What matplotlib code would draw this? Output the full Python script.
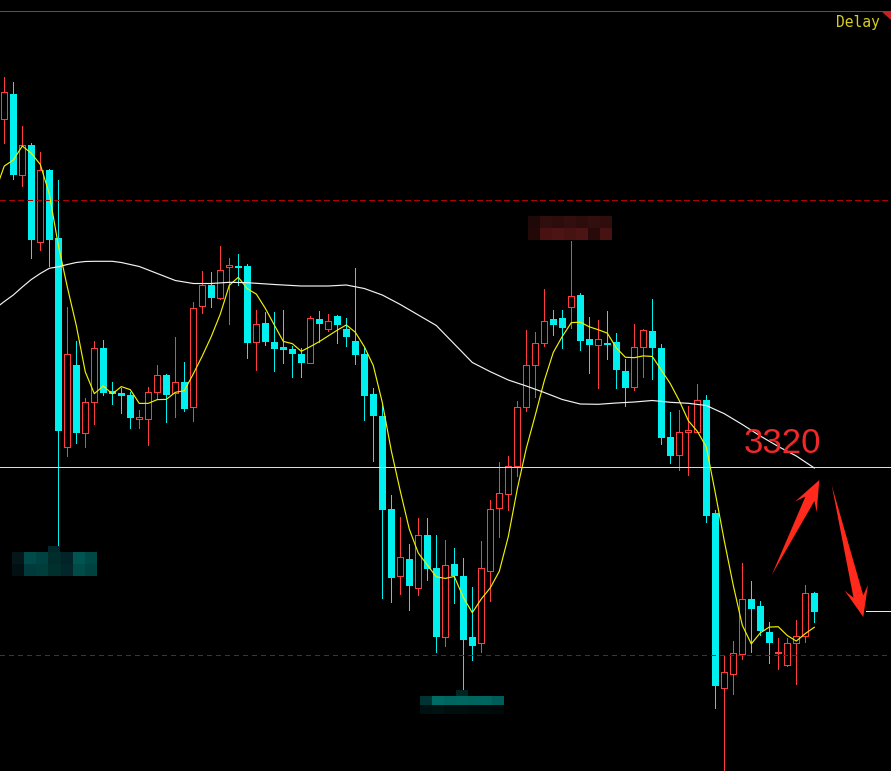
import numpy as np
import matplotlib
matplotlib.use("Agg")
import matplotlib.pyplot as plt
from matplotlib.patches import Rectangle, Polygon
from matplotlib.transforms import IdentityTransform

plt.rcParams["lines.scale_dashes"] = False

# ---- hourly candles (price) ----
opens = [3354.83, 3357.30, 3349.23, 3352.17, 3342.47, 3349.67, 3342.87, 3322.03, 3330.20, 3323.43,
         3326.47, 3331.87, 3327.57, 3327.43, 3327.20, 3324.80, 3324.83, 3327.53, 3329.20, 3327.43,
         3328.50, 3325.97, 3336.07, 3338.17, 3336.93, 3339.97, 3340.07, 3340.10, 3332.47, 3334.40,
         3332.50, 3332.00, 3331.80, 3331.30, 3330.37, 3334.80, 3333.77, 3335.10, 3333.80, 3332.60,
         3331.30, 3327.30, 3325.10, 3315.80, 3309.13, 3310.80, 3307.93, 3313.20, 3309.90, 3303.03,
         3310.30, 3309.10, 3303.00, 3302.43, 3309.63, 3315.87, 3317.27, 3320.07, 3325.97, 3330.17,
         3332.37, 3334.80, 3334.90, 3335.97, 3337.20, 3332.80, 3332.17, 3332.40, 3332.50, 3329.60,
         3328.03, 3332.03, 3333.60, 3331.90, 3323.00, 3321.17, 3323.47, 3323.53, 3326.67, 3315.37,
         3297.87, 3299.27, 3301.27, 3306.77, 3306.10, 3303.47, 3301.43, 3300.23, 3302.37, 3303.07,
         3307.37]
highs = [3358.97, 3358.50, 3354.10, 3352.40, 3351.47, 3349.80, 3348.67, 3335.97, 3332.60, 3326.90,
         3332.60, 3332.70, 3328.50, 3327.87, 3327.53, 3325.73, 3328.00, 3330.23, 3329.33, 3333.03,
         3330.50, 3336.47, 3339.63, 3339.50, 3342.10, 3340.87, 3341.30, 3340.30, 3335.70, 3335.53,
         3335.50, 3335.70, 3332.10, 3331.87, 3335.10, 3335.60, 3335.30, 3335.20, 3334.87, 3339.90,
         3332.05, 3327.87, 3326.20, 3317.17, 3315.00, 3312.30, 3314.90, 3314.90, 3313.20, 3312.70,
         3311.90, 3310.90, 3308.03, 3312.60, 3316.70, 3320.50, 3321.10, 3326.57, 3333.70, 3333.50,
         3337.80, 3335.70, 3335.70, 3342.60, 3337.40, 3335.00, 3334.70, 3335.60, 3333.40, 3330.80,
         3334.30, 3333.80, 3336.80, 3332.30, 3325.47, 3325.67, 3326.10, 3328.30, 3327.20, 3315.70,
         3301.20, 3302.60, 3310.43, 3308.60, 3306.60, 3304.47, 3302.93, 3302.93, 3304.73, 3308.17,
         3307.50]
lows = [3352.43, 3348.83, 3348.13, 3340.93, 3341.73, 3340.13, 3312.13, 3321.13, 3322.43, 3322.03,
        3324.33, 3327.20, 3326.30, 3325.43, 3323.93, 3323.93, 3322.20, 3326.77, 3324.53, 3325.03,
        3325.63, 3324.63, 3335.43, 3336.03, 3336.85, 3334.30, 3338.20, 3330.93, 3329.70, 3332.20,
        3329.63, 3330.37, 3329.03, 3329.03, 3330.37, 3332.50, 3333.63, 3332.43, 3332.13, 3330.35,
        3324.73, 3320.63, 3306.93, 3306.53, 3307.33, 3305.73, 3307.23, 3308.70, 3301.53, 3302.13,
        3306.43, 3297.73, 3300.73, 3301.53, 3306.63, 3313.03, 3315.73, 3319.13, 3325.63, 3327.03,
        3332.13, 3333.23, 3331.93, 3333.93, 3331.73, 3329.43, 3327.93, 3330.83, 3327.93, 3326.13,
        3327.73, 3329.03, 3328.83, 3322.27, 3320.43, 3319.67, 3319.23, 3323.53, 3314.53, 3295.93,
        3289.70, 3297.33, 3300.77, 3301.53, 3303.23, 3300.43, 3299.83, 3300.10, 3298.33, 3302.53,
        3304.53]
closes = [3357.47, 3349.23, 3352.17, 3342.73, 3349.67, 3342.73, 3323.63, 3331.27, 3323.43, 3326.47,
          3331.87, 3327.43, 3327.33, 3327.10, 3324.93, 3325.00, 3327.47, 3329.20, 3327.20, 3328.47,
          3325.80, 3335.90, 3338.17, 3336.93, 3339.67, 3340.17, 3339.93, 3332.43, 3334.27, 3332.53,
          3331.83, 3331.73, 3331.33, 3330.43, 3334.87, 3334.33, 3334.60, 3334.20, 3333.03, 3331.23,
          3327.13, 3325.13, 3315.73, 3308.93, 3311.00, 3308.13, 3313.17, 3309.80, 3303.00, 3310.20,
          3309.10, 3302.73, 3302.13, 3309.87, 3315.77, 3317.37, 3320.07, 3325.97, 3330.17, 3332.37,
          3334.57, 3334.23, 3333.93, 3337.07, 3332.63, 3332.23, 3332.77, 3332.23, 3329.73, 3327.93,
          3332.00, 3333.67, 3331.93, 3322.95, 3321.13, 3323.47, 3323.67, 3326.65, 3315.13, 3298.13,
          3299.47, 3301.37, 3306.77, 3305.83, 3303.63, 3302.37, 3301.53, 3302.37, 3303.07, 3307.37,
          3305.53]
# closes of the five bars before the visible window (feed the MA5)
prior_closes = [3344.97, 3346.23, 3345.17, 3346.38, 3355.25]

# slow moving average, sampled at bar indices
slow_ma_idx = [-1, 0, 1, 2, 3, 4, 5, 6, 7, 8, 9, 10, 12, 13, 15, 17, 19, 21, 23, 25, 27, 30, 33, 36,
               38, 40, 42, 44, 46, 48, 50, 52, 54, 56, 58, 60, 62, 64, 66, 68, 70, 72, 74, 76, 78,
               80, 82, 84, 86, 88, 90]
slow_ma = [3335.85, 3336.55, 3337.20, 3338.00, 3338.75, 3339.35, 3339.87, 3340.02, 3340.25, 3340.45,
           3340.55, 3340.57, 3340.57, 3340.45, 3340.05, 3339.35, 3338.65, 3338.35, 3338.35, 3338.47,
           3338.43, 3338.25, 3338.10, 3338.10, 3338.20, 3337.85, 3337.20, 3336.25, 3335.20, 3334.15,
           3332.30, 3330.45, 3329.53, 3328.70, 3328.10, 3327.45, 3326.75, 3326.30, 3326.27, 3326.40,
           3326.50, 3326.65, 3326.47, 3326.37, 3326.15, 3325.33, 3324.25, 3323.10, 3322.05, 3321.10,
           3319.90]

key_level = 3320.0
key_label = "3320"
upper_dash = 3346.7
lower_dash = 3301.2
top_rule = 3365.6
target_level = 3305.6

UP = "#FF3C3C"
DOWN = "#00F0F0"
BG = "black"

fig = plt.figure(figsize=(8.91, 7.71), dpi=100, facecolor=BG)
ax = fig.add_axes([0, 0, 1, 1])
ax.set_facecolor(BG)
ax.axis("off")

x_lo, x_hi = -0.478, 98.522
y_lo, y_hi = 3289.6, 3366.7

n = len(closes)
idx = np.arange(n)
px = 0.72  # one pixel in points

# candles: hollow red for rising bars, solid cyan for falling bars
for i in idx:
    o, h, l, c = opens[i], highs[i], lows[i], closes[i]
    up = c >= o
    col = UP if up else DOWN
    top, bot = max(o, c), min(o, c)
    ax.vlines(i, top, h, color=col, lw=px, zorder=2, antialiased=False)
    ax.vlines(i, l, bot, color=col, lw=px, zorder=2, antialiased=False)
    hgt = max(top - bot, 0.08)
    if up:
        bw = 0.64
        ax.add_patch(Rectangle((i - bw / 2, bot), bw, hgt, facecolor=BG, edgecolor=col,
                               lw=px, zorder=3, antialiased=False))
    else:
        bw = 0.72
        ax.add_patch(Rectangle((i - bw / 2, bot), bw, hgt, facecolor=col, edgecolor="none",
                               zorder=3, antialiased=False))

# moving averages
all_closes = np.array(prior_closes + closes)
ma5 = np.convolve(all_closes, np.ones(5) / 5, mode="valid")
ma5_idx = np.arange(-1, n)
ax.plot(ma5_idx, ma5, color="#F0F000", lw=0.85, zorder=5)
ax.plot(slow_ma_idx, slow_ma, color="#F2F2F2", lw=0.85, zorder=5)

# horizontal levels
ax.axhline(top_rule, color="#C02828", lw=0.45, zorder=4, antialiased=False)
ax.axhline(upper_dash, color="#B00000", lw=0.45, dashes=(4.3, 2.2), zorder=4, antialiased=False)
ax.axhline(lower_dash, color="#801818", lw=0.45, dashes=(3.0, 3.0), zorder=4, antialiased=False)
ax.axhline(key_level, color="#DADADA", lw=0.45, zorder=4, antialiased=False)
ax.hlines(target_level, 95.74, x_hi, color="#E8E8E8", lw=0.45, zorder=4, antialiased=False)

# pixelated price tags
def mosaic(rows, x0, x1, y0, y1):
    arr = np.array(rows, dtype=np.uint8)
    ax.imshow(arr, extent=(x0, x1, y0, y1), interpolation="nearest", aspect="auto", zorder=6)

mosaic([[(0, 40, 40)]], 4.86, 6.19, 3311.50, 3312.10)
mosaic([[(4, 22, 24), (0, 74, 74), (0, 66, 66), (0, 44, 44), (2, 36, 40), (0, 84, 82), (0, 72, 70)],
        [(3, 16, 19), (0, 58, 58), (0, 62, 60), (0, 48, 46), (2, 38, 42), (0, 74, 72), (0, 66, 64)]],
       0.856, 10.19, 3309.10, 3311.50)
mosaic([[(30, 8, 8), (48, 14, 14), (45, 12, 12), (50, 14, 14), (45, 12, 12), (50, 14, 14), (48, 13, 13)],
        [(35, 8, 8), (72, 18, 18), (76, 20, 20), (70, 18, 18), (76, 20, 20), (40, 10, 10), (70, 18, 18)]],
       58.19, 67.52, 3342.70, 3345.10)
mosaic([[(0, 35, 35)]], 50.19, 51.52, 3297.10, 3297.70)
mosaic([[(0, 52, 52), (0, 106, 100), (0, 100, 96), (0, 102, 96), (0, 100, 95), (0, 100, 95), (0, 92, 88)],
        [(0, 16, 16), (0, 18, 18), (0, 14, 14), (0, 14, 14), (0, 12, 12), (0, 10, 10), (0, 8, 8)]],
       46.19, 55.52, 3295.30, 3297.10)

# fix the view before building pixel-space shapes
ax.set_xlim(x_lo, x_hi)
ax.set_ylim(y_lo, y_hi)

# tapered arrows
def fancy_arrow(tail, tip, color, head_len=30, head_w=12, neck=5.0, notch=9):
    t = ax.transData.transform(tail)
    p = ax.transData.transform(tip)
    d = (p - t) / np.linalg.norm(p - t)
    nrm = np.array([-d[1], d[0]])
    pts = [t,
           p - d * (head_len - notch) + nrm * neck,
           p - d * head_len + nrm * head_w,
           p,
           p - d * head_len - nrm * head_w,
           p - d * (head_len - notch) - nrm * neck]
    ax.add_patch(Polygon(pts, closed=True, facecolor=color, edgecolor="none",
                         transform=IdentityTransform(), zorder=7))

fancy_arrow((85.27, 3309.2), (90.56, 3318.7), "#FF2A1C")
fancy_arrow((91.93, 3318.2), (95.44, 3305.0), "#FF2A1C")

ax.text(82.1, 3321.4, key_label, color="#F02828", fontsize=25, family="Liberation Sans",
        ha="left", va="baseline", zorder=8)
ax.text(92.4, 3363.95, "Delay", color="#D8CC20", fontsize=10.5, family="DejaVu Sans Mono",
        ha="left", va="baseline", zorder=8)
ax.add_patch(Polygon([(97.41, top_rule), (x_hi, top_rule), (x_hi, 3364.7)], closed=True,
                     facecolor="#C82020", edgecolor="none", zorder=8))

ax.set_xlim(x_lo, x_hi)
ax.set_ylim(y_lo, y_hi)

fig.savefig("out.png", dpi=100, facecolor=BG)
